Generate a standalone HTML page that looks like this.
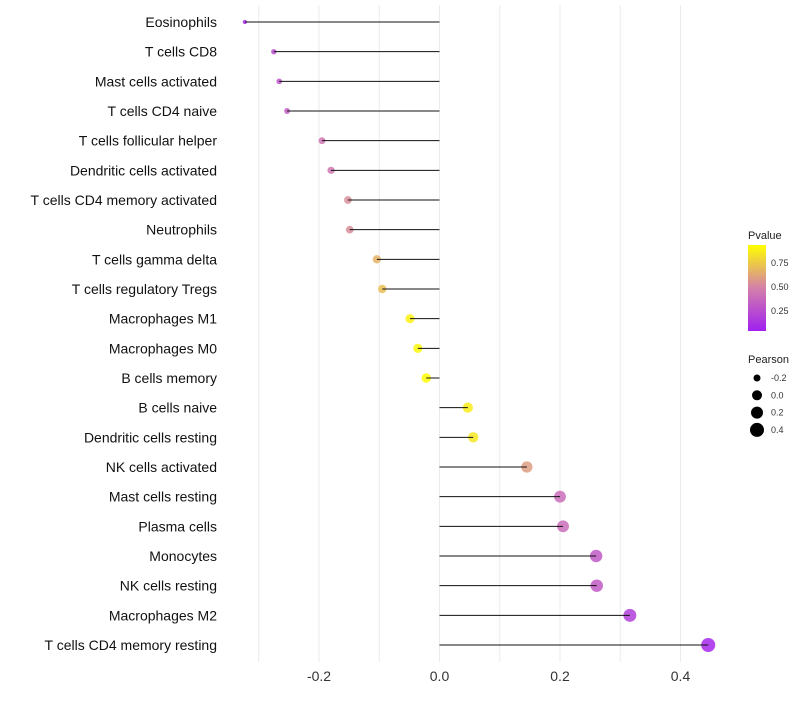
<!DOCTYPE html>
<html><head><meta charset="utf-8"><style>
body{margin:0;background:#fff;font-family:"Liberation Sans",sans-serif}
</style></head><body>
<svg id="chart" width="800" height="700"></svg>
<script>
const categories=["Eosinophils","T cells CD8","Mast cells activated","T cells CD4 naive","T cells follicular helper","Dendritic cells activated","T cells CD4 memory activated","Neutrophils","T cells gamma delta","T cells regulatory  Tregs ","Macrophages M1","Macrophages M0","B cells memory","B cells naive","Dendritic cells resting","NK cells activated","Mast cells resting","Plasma cells","Monocytes","NK cells resting","Macrophages M2","T cells CD4 memory resting"];
const pearson=[-0.323,-0.275,-0.266,-0.253,-0.195,-0.180,-0.152,-0.149,-0.104,-0.095,-0.049,-0.036,-0.022,0.047,0.056,0.145,0.200,0.205,0.260,0.261,0.316,0.446];
const pvalue=[0.05,0.25,0.28,0.32,0.45,0.45,0.55,0.55,0.7,0.75,0.95,0.97,0.99,0.93,0.9,0.62,0.4,0.4,0.3,0.3,0.15,0.04];
const xTicks=[-0.2,0,0.2,0.4];
const xTickLabels=["-0.2","0.0","0.2","0.4"];
const pTicks=[0.25,0.5,0.75];
const pTickLabels=["0.25","0.50","0.75"];
const sizeLegend=[-0.2,0,0.2,0.4];
const sizeLegendLabels=["-0.2","0.0","0.2","0.4"];

const NS="http://www.w3.org/2000/svg";
const svg=document.getElementById('chart');
function mk(t,a,p){const e=document.createElementNS(NS,t);for(const k in a)e.setAttribute(k,a[k]);(p||svg).appendChild(e);return e;}
const x=v=>439.5+v*602.5;
const y=i=>22+i*(623/21);
const rad=v=>Math.sqrt(Math.max(4,23.5+58.5*v));
function lerp(a,b,t){return a.map((c,i)=>Math.round(c+(b[i]-c)*t));}
function col(p){const s=[[160,32,240],[212,128,170],[255,255,0]];const c=p<0.5?lerp(s[0],s[1],p/0.5):lerp(s[1],s[2],(p-0.5)/0.5);return `rgb(${c})`;}
for(let g=-0.3;g<=0.45;g+=0.1){const l=mk('line',{x1:x(g),x2:x(g),y1:5,y2:662,stroke:'#ebebeb','stroke-width':1});
}
xTicks.forEach((t,i)=>{const e=mk('text',{x:x(t),y:681,'text-anchor':'middle','font-size':14,fill:'#333'});e.textContent=xTickLabels[i];
});
categories.forEach((c,i)=>{
const t=mk('text',{x:217,y:y(i)+5,'text-anchor':'end','font-size':14,fill:'#111'});t.textContent=c;

const p=mk('circle',{cx:x(pearson[i]),cy:y(i),r:rad(pearson[i]),fill:col(pvalue[i]),'fill-opacity':0.85});

const l=mk('line',{x1:x(0),x2:x(pearson[i]),y1:y(i),y2:y(i),stroke:'#111','stroke-width':1});

});
const lt=mk('text',{x:748,y:239,'font-size':11,fill:'#222'});lt.textContent='Pvalue';

const defs=mk('defs',{});const gr=mk('linearGradient',{id:'pg',x1:0,y1:1,x2:0,y2:0},defs);
[0,0.5,1].forEach(o=>mk('stop',{offset:o,'stop-color':col(o)},gr));
const cb=mk('rect',{x:748,y:245,width:18,height:86,fill:'url(#pg)'});

const py=p=>335-p*96;
pTicks.forEach((p,i)=>{const e=mk('text',{x:771,y:py(p)+3,'font-size':9,fill:'#333'});e.textContent=pTickLabels[i];
});
const st=mk('text',{x:748,y:363,'font-size':11,fill:'#222'});st.textContent='Pearson';

const lr=[3.5,5,6,7];
sizeLegend.forEach((v,i)=>{const yy=378+i*17.3;
const c=mk('circle',{cx:757,cy:yy,r:lr[i],fill:'#000'});

const e=mk('text',{x:771,y:yy+3,'font-size':9,fill:'#333'});e.textContent=sizeLegendLabels[i];
});
</script>
</body></html>
